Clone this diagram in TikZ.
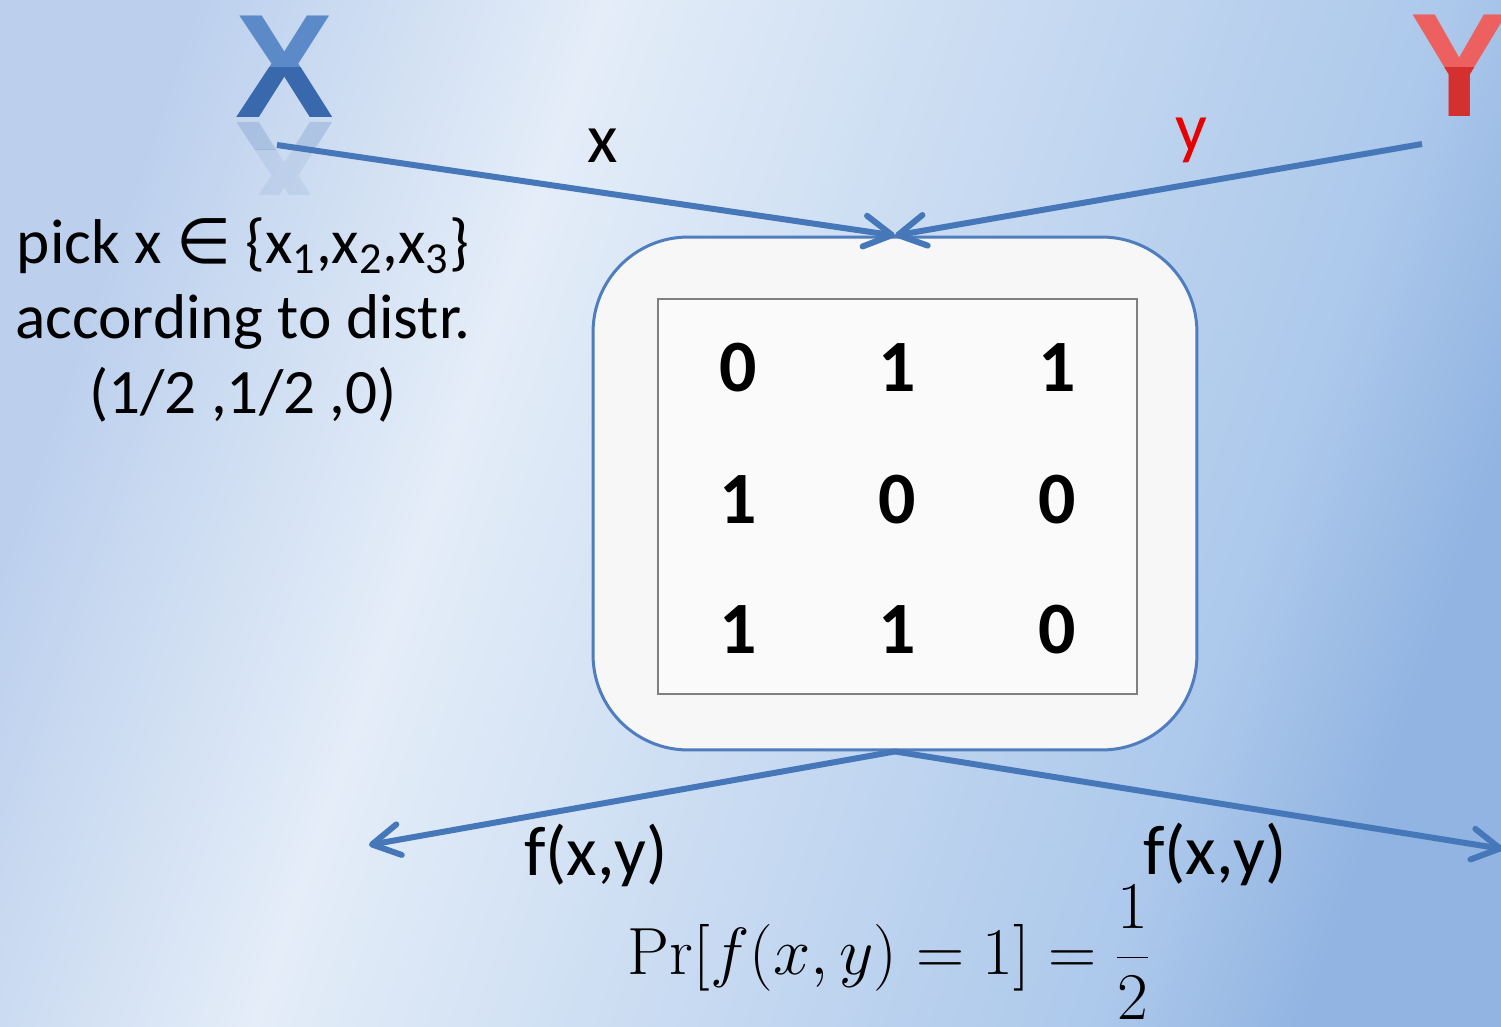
\documentclass[tikz,border=0pt]{standalone}
\usepackage{fix-cm}
\usepackage[no-math]{fontspec}
\setmainfont{Carlito}
\newfontfamily\logofont{Liberation Sans}
\usetikzlibrary{arrows.meta}
\definecolor{bgA}{RGB}{188,208,237}
\definecolor{bgB}{RGB}{228,237,248}
\definecolor{bgC}{RGB}{172,200,235}
\definecolor{bgD}{RGB}{145,180,226}
\definecolor{lineblue}{RGB}{70,120,185}
\definecolor{boxblue}{RGB}{80,125,190}
\definecolor{xblueL}{RGB}{92,138,200}
\definecolor{xblue}{RGB}{58,104,172}
\definecolor{yredL}{RGB}{236,96,96}
\definecolor{yred}{RGB}{212,48,48}
\definecolor{labelred}{RGB}{230,0,0}
\pgfdeclarehorizontalshading{bgshade}{100bp}{color(0bp)=(bgA); color(25bp)=(bgA); color(39bp)=(bgB); color(68bp)=(bgC); color(75bp)=(bgD); color(100bp)=(bgD)}
\begin{document}
\begin{tikzpicture}[x=0.02cm,y=-0.02cm,
  flow/.style={draw=lineblue, line width=0.12cm,
    -{Straight Barb[length=0.55cm,width=0.62cm,line cap=round,line join=round]}},
  lbl/.style={font=\fontsize{40}{44}\selectfont, inner sep=0pt},
  cell/.style={font=\fontsize{42}{46}\selectfont\bfseries, inner sep=0pt},
  logo/.style={font=\logofont\fontsize{84}{90}\selectfont\bfseries, inner sep=0pt, anchor=base}]
\useasboundingbox (0,0) rectangle (1501,1027);
\shade[shading=bgshade, shading angle=-19] (0,0) rectangle (1501,1027);
\clip (0,0) rectangle (1501,1027);

% logos
\node[logo, text=xblueL] (X) at (285,118) {X};
\begin{scope}
  \clip (200,68) rectangle (370,125);
  \node[logo, text=xblue] (Xd) at (285,118) {X};
\end{scope}
\begin{scope}
  \clip (200,120) rectangle (370,150);
  \node[logo, text=xblue, opacity=0.2, yscale=-1, transform shape] (Xr) at (285,123) {X};
\end{scope}
\begin{scope}
  \clip (200,150) rectangle (370,195);
  \node[logo, text=xblue, opacity=0.09, yscale=-1, transform shape] (Xr2) at (285,123) {X};
\end{scope}
\node[logo, text=yredL] (Y) at (1460,117) {Y};
\begin{scope}
  \clip (1380,68) rectangle (1501,125);
  \node[logo, text=yred] (Yd) at (1460,117) {Y};
\end{scope}

% end points
\coordinate (xs) at (277,145);
\coordinate (ys) at (1422,144);
\coordinate (outL) at (369,845);
\coordinate (outR) at (1503,849);

% box
\node[draw=boxblue, line width=0.06cm, fill=white!97!black, rounded corners=1.9cm,
      minimum width=12.08cm, minimum height=10.26cm, inner sep=0pt] (box) at (895,493.5) {};
\node[draw=black!50, line width=0.04cm, fill=white!98!black, minimum width=9.58cm,
      minimum height=7.9cm, inner sep=0pt] (grid) at (897.5,496.5) {};
\node[cell] (c11) at (738,368) {0};
\node[cell] (c12) at (897,368) {1};
\node[cell] (c13) at (1057,368) {1};
\node[cell] (c21) at (738,500) {1};
\node[cell] (c22) at (897,500) {0};
\node[cell] (c23) at (1057,500) {0};
\node[cell] (c31) at (738,630) {1};
\node[cell] (c32) at (897,630) {1};
\node[cell] (c33) at (1057,630) {0};

% arrows
\draw[flow] (xs) -- (box.north);
\draw[flow] (ys) -- (box.north);
\draw[flow] (box.south) -- (outL);
\draw[flow] (box.south) -- (outR);

% labels
\node[lbl, anchor=base] (lx) at (603,163) {x};
\node[lbl, anchor=base, text=labelred] (ly) at (1191,152) {y};
\node[lbl, anchor=base] (f1) at (596,875) {f(x,y)};
\node[lbl, anchor=base] (f2) at (1215,874) {f(x,y)};

\node[font=\fontsize{36}{42.5}\selectfont, align=center, inner sep=0pt] (pick) at (243,320)
  {pick x {\fontspec{DejaVu Sans}∈} \{x\textsubscript{1},x\textsubscript{2},x\textsubscript{3}\}\\
   according to distr.\\ (1/2 ,1/2 ,0)};

\node[font=\fontsize{38}{44}\selectfont, inner sep=0pt, anchor=base] (pr) at (889,974)
  {$\displaystyle \Pr[f(x,y)=1]=\frac{1}{2}$};
\end{tikzpicture}
\end{document}
